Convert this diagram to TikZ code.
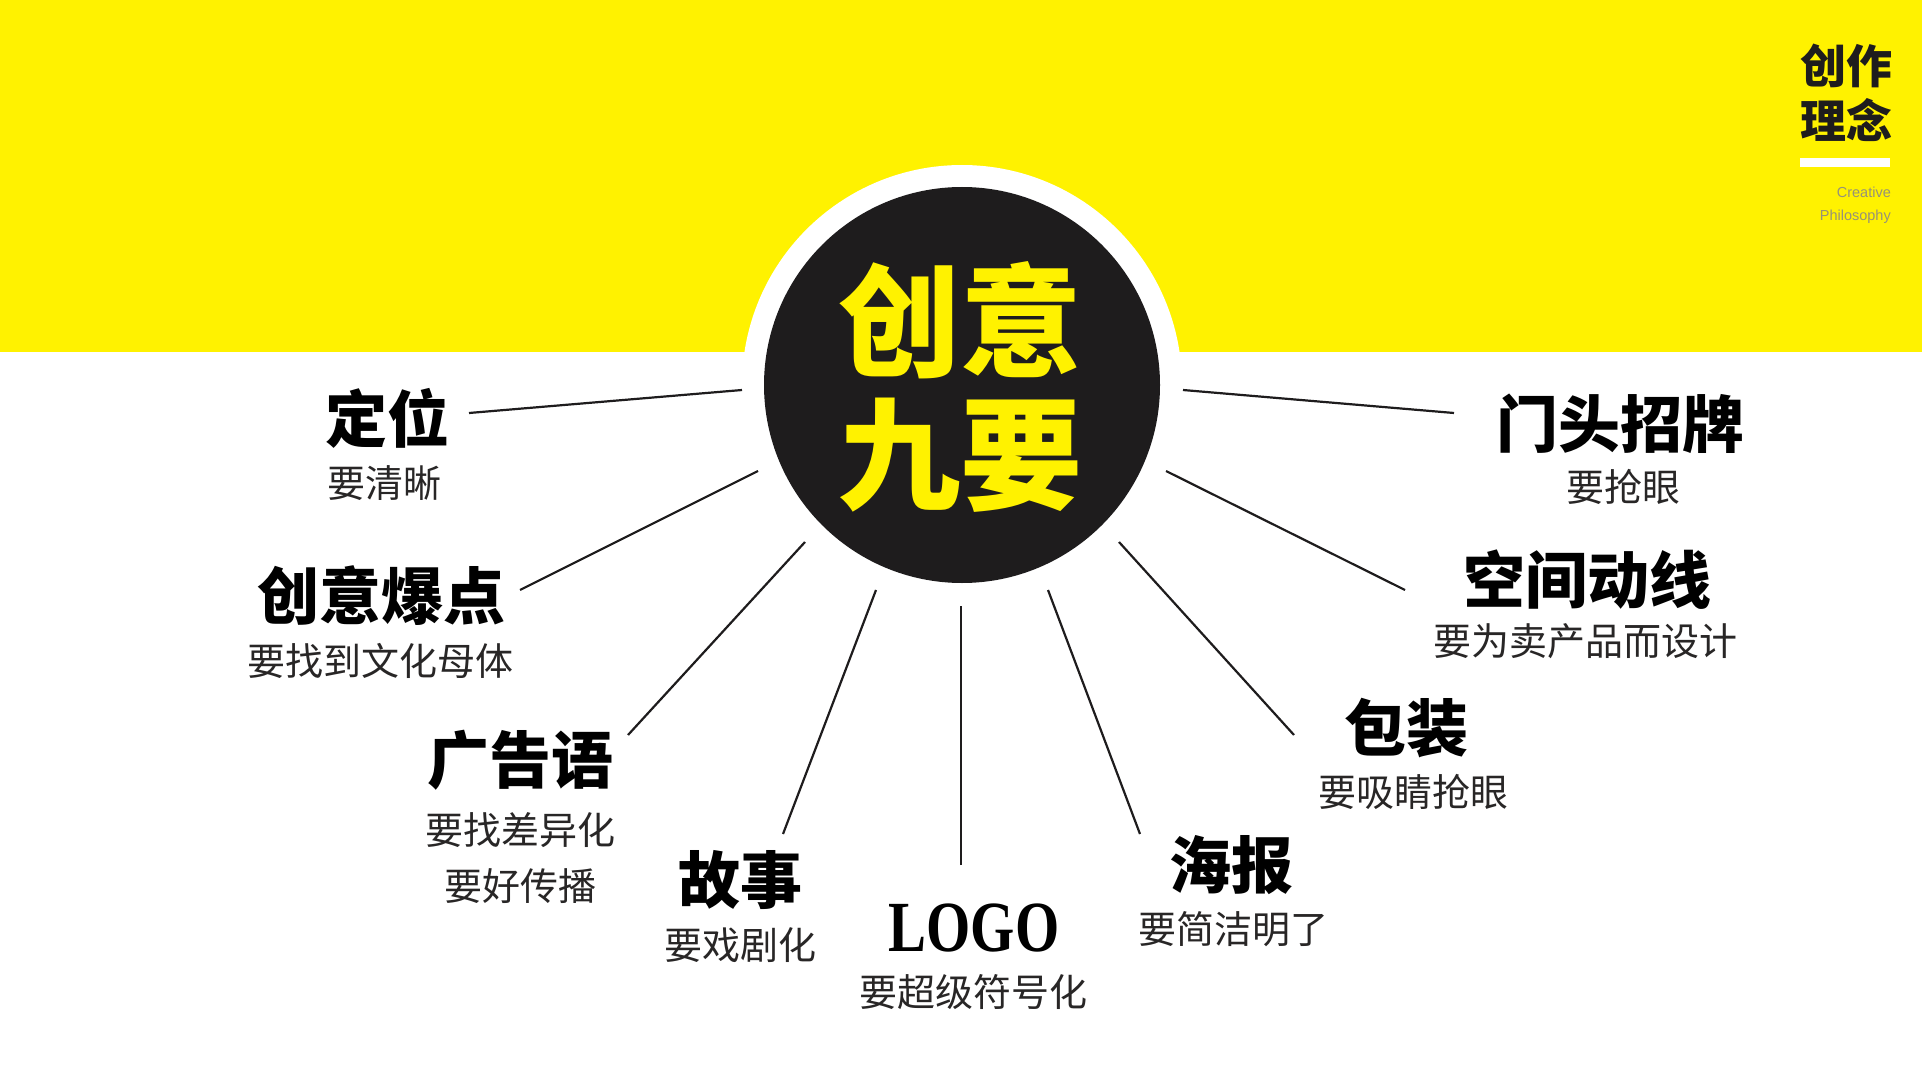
\documentclass[tikz,border=0pt]{standalone}
\usepackage{fontspec}
\newfontfamily\cjk{Noto Sans CJK SC}
\newfontfamily\lserif{Liberation Serif}
\newfontfamily\lsans{Liberation Sans}
\definecolor{band}{RGB}{255,242,0}
\definecolor{ink}{RGB}{30,28,29}
\definecolor{subgray}{RGB}{40,38,38}
\definecolor{capgray}{RGB}{150,146,120}
\begin{document}
\begin{tikzpicture}[x=1pt,y=-1pt,
  title/.style={font=\cjk\bfseries\fontsize{62}{62}\selectfont, text=black, inner sep=0},
  sub/.style={font=\cjk\fontsize{38}{56}\selectfont, text=subgray, inner sep=0, align=center},
  ray/.style={draw=ink, line width=2.2}]
\useasboundingbox (0,0) rectangle (1922,1067);
\fill[white] (0,0) rectangle (1922,1067);
\fill[band] (0,0) rectangle (1922,352);
% centre
\fill[white] (962,385) circle[radius=220];
\node[circle, fill=ink, minimum size=396, inner sep=0] (hub) at (962,385) {};
\node[font=\cjk\bfseries\fontsize{122}{133}\selectfont, text=band, align=center, inner sep=0] (hubtext) at (960,387) {创意\\九要};
% top right
\node[font=\cjk\bfseries\fontsize{46}{55}\selectfont, text=ink, align=left, inner sep=0] (corner) at (1846,93) {创作\\理念};
\fill[white] (1800,158) rectangle (1890,167);
\node[font=\lsans\fontsize{14.5}{14.5}\selectfont, text=capgray, anchor=east, inner sep=0] (cap1) at (1891,192) {Creative};
\node[font=\lsans\fontsize{14.5}{14.5}\selectfont, text=capgray, anchor=east, inner sep=0] (cap2) at (1891,217) {Philosophy};
% labels
\node[title] (t1) at (387,418) {定位};
\node[sub] (s1) at (384,483) {要清晰};
\node[title] (t2) at (381,596) {创意爆点};
\node[sub] (s2) at (380,661) {要找到文化母体};
\node[title] (t3) at (520,760) {广告语};
\node[sub] (s3) at (520,858) {要找差异化\\要好传播};
\node[title] (t4) at (740,880) {故事};
\node[sub] (s4) at (740,945) {要戏剧化};
\node[font=\lserif\bfseries\fontsize{72}{72}\selectfont, text=black, inner sep=0] (t5) at (974,928) {\scalebox{0.79}[1]{LOGO}};
\node[sub] (s5) at (973,992) {要超级符号化};
\node[title] (t6) at (1231,865) {海报};
\node[sub] (s6) at (1233,929) {要简洁明了};
\node[title] (t7) at (1406,728) {包装};
\node[sub] (s7) at (1413,792) {要吸睛抢眼};
\node[title] (t8) at (1587,580) {空间动线};
\node[sub] (s8) at (1585,641) {要为卖产品而设计};
\node[title] (t9) at (1620,424) {门头招牌};
\node[sub] (s9) at (1623,487) {要抢眼};
% ray end points
\coordinate (a1) at (469,413); \coordinate (b1) at (742,390);
\coordinate (a2) at (520,590); \coordinate (b2) at (758,471);
\coordinate (a3) at (628,735); \coordinate (b3) at (805,542);
\coordinate (a4) at (783,834); \coordinate (b4) at (876,590);
\coordinate (a5) at (961,865); \coordinate (b5) at (961,606);
\coordinate (a6) at (1140,834); \coordinate (b6) at (1048,590);
\coordinate (a7) at (1294,735); \coordinate (b7) at (1119,542);
\coordinate (a8) at (1405,590); \coordinate (b8) at (1166,471);
\coordinate (a9) at (1454,413); \coordinate (b9) at (1183,390);
\foreach \i in {1,...,9} {\draw[ray] (a\i) -- (b\i);}
\end{tikzpicture}
\end{document}
